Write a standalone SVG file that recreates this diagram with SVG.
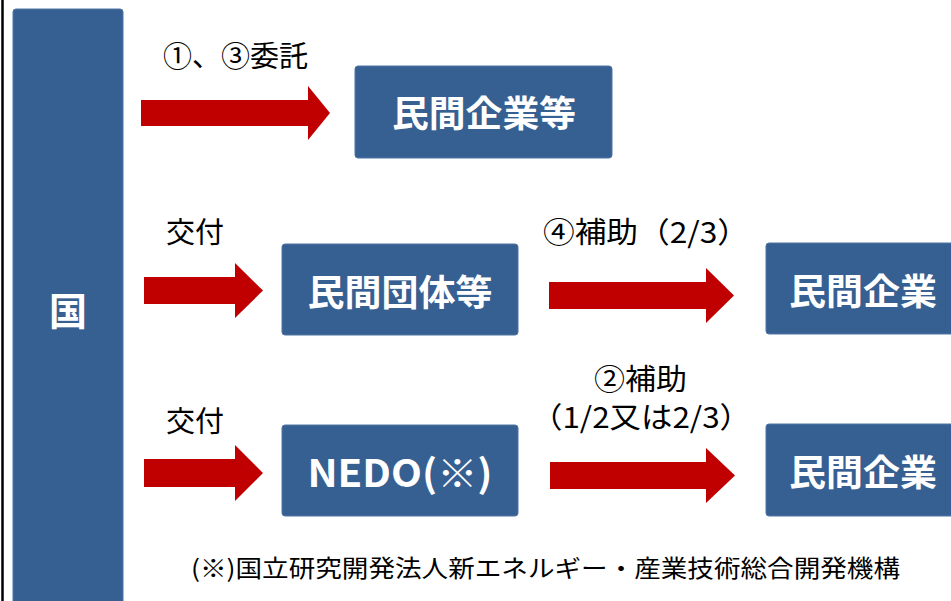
<svg xmlns="http://www.w3.org/2000/svg" width="951" height="601" viewBox="0 0 951 601">
  <style>
    .box { fill: #376092; stroke: #4f74a3; stroke-width: 1; }
    .bt { fill: #ffffff; font-family: "Noto Sans CJK JP", "Noto Sans", sans-serif; font-weight: 700; text-anchor: middle; }
    .lbl { fill: #000000; font-family: "Noto Sans CJK JP", "Noto Sans", sans-serif; font-size: 29px; }
    .arrow { fill: #c00000; }
  </style>
  <rect x="0" y="0" width="951" height="601" fill="#ffffff"/>
  <line x1="2.5" y1="0" x2="2.5" y2="601" stroke="#000000" stroke-width="2.5"/>

  <g id="node-kuni">
    <rect class="box" x="13" y="9" width="110" height="600" rx="3"/>
    <text class="bt" x="68" y="325" font-size="38">国</text>
  </g>
  <g id="node-minkan-kigyo-to">
    <rect class="box" x="355" y="66" width="257" height="92" rx="3"/>
    <text class="bt" x="484" y="127" font-size="36" textLength="184" lengthAdjust="spacingAndGlyphs">民間企業等</text>
  </g>
  <g id="node-minkan-dantai">
    <rect class="box" x="282" y="244" width="236" height="91" rx="3"/>
    <text class="bt" x="400" y="306" font-size="36" textLength="185" lengthAdjust="spacingAndGlyphs">民間団体等</text>
  </g>
  <g id="node-minkan-kigyo-1">
    <rect class="box" x="766" y="243" width="200" height="91" rx="3"/>
    <text class="bt" x="863" y="305" font-size="36" textLength="148" lengthAdjust="spacingAndGlyphs">民間企業</text>
  </g>
  <g id="node-nedo">
    <rect class="box" x="282" y="425" width="236" height="91" rx="3"/>
    <text class="bt" x="400" y="487" font-size="38" textLength="185" lengthAdjust="spacingAndGlyphs">NEDO(※)</text>
  </g>
  <g id="node-minkan-kigyo-2">
    <rect class="box" x="766" y="424" width="200" height="92" rx="3"/>
    <text class="bt" x="863" y="486" font-size="36" textLength="148" lengthAdjust="spacingAndGlyphs">民間企業</text>
  </g>

  <g id="connectors">
    <polygon class="arrow" points="141,100 308,100 308,86 330,113 308,140 308,126 141,126"/>
    <polygon class="arrow" points="144,277 235,277 235,263 263,290.5 235,318 235,304 144,304"/>
    <polygon class="arrow" points="549,282 706,282 706,268 734,295.5 706,323 706,309 549,309"/>
    <polygon class="arrow" points="144,459 235,459 235,445 263,473 235,501 235,487 144,487"/>
    <polygon class="arrow" points="550,462 706,462 706,448 735,475.5 706,503 706,489 550,489"/>
    <text class="lbl" x="163" y="67" textLength="145" lengthAdjust="spacingAndGlyphs">①、③委託</text>
    <text class="lbl" x="166" y="243">交付</text>
    <text class="lbl" x="543" y="243" textLength="206" lengthAdjust="spacingAndGlyphs">④補助（2/3）</text>
    <text class="lbl" x="166" y="432">交付</text>
    <text class="lbl" x="594" y="390" textLength="93" lengthAdjust="spacingAndGlyphs">②補助</text>
    <text class="lbl" x="531" y="428" textLength="220" lengthAdjust="spacingAndGlyphs">（1/2又は2/3）</text>
  </g>

  <text x="191" y="577" fill="#000000" font-family="Noto Sans CJK JP, Noto Sans, sans-serif" font-size="24" textLength="709" lengthAdjust="spacingAndGlyphs">(※)国立研究開発法人新エネルギー・産業技術総合開発機構</text>
</svg>
